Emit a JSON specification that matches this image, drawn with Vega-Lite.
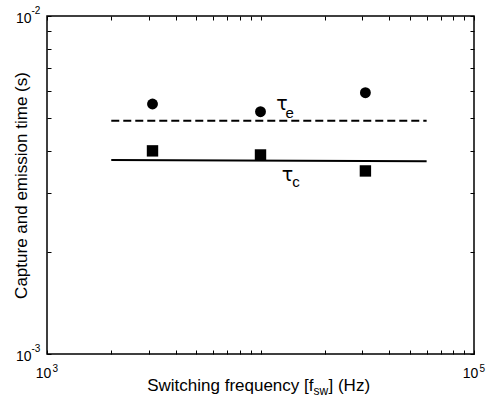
{
  "$schema": "https://vega.github.io/schema/vega-lite/v6.json",
  "width": 427,
  "height": 338,
  "autosize": {"type": "none"},
  "padding": {"left": 47, "top": 16, "right": 14, "bottom": 42},
  "background": "white",
  "datasets": {
    "points": [
      {"f": 3120, "tau": 0.00549, "type": "emission"},
      {"f": 10000, "tau": 0.00521, "type": "emission"},
      {"f": 31000, "tau": 0.00593, "type": "emission"},
      {"f": 3120, "tau": 0.00399, "type": "capture"},
      {"f": 10000, "tau": 0.00388, "type": "capture"},
      {"f": 31000, "tau": 0.00348, "type": "capture"}
    ],
    "fits": [
      {"f": 2000, "tau": 0.0049, "type": "emission"},
      {"f": 60000, "tau": 0.0049, "type": "emission"},
      {"f": 2000, "tau": 0.00375, "type": "capture"},
      {"f": 60000, "tau": 0.00372, "type": "capture"}
    ],
    "labels": [
      {"f": 12610, "tau": 0.00549, "text": "τ", "part": "symbol"},
      {"f": 13700, "tau": 0.00518, "text": "e", "part": "sub"},
      {"f": 13380, "tau": 0.003385, "text": "τ", "part": "symbol"},
      {"f": 14670, "tau": 0.003228, "text": "c", "part": "sub"}
    ]
  },
  "config": {
    "view": {"stroke": "black", "strokeWidth": 1.5},
    "axis": {
      "domain": false,
      "grid": false,
      "labelFont": "Liberation Sans",
      "titleFont": "Liberation Sans",
      "labelColor": "black",
      "titleColor": "black",
      "tickColor": "black",
      "titleFontWeight": "normal",
      "labelOverlap": false,
      "labelFlush": false,
      "labelBound": false
    }
  },
  "resolve": {"axis": {"x": "independent", "y": "independent"}},
  "layer": [
    {
      "data": {"name": "points"},
      "transform": [{"filter": "datum.type === 'emission'"}],
      "mark": {"type": "point", "shape": "circle", "filled": true, "color": "black", "size": 118, "opacity": 1},
      "encoding": {
        "x": {
          "field": "f", "type": "quantitative",
          "scale": {"type": "log", "domain": [1000, 100000], "nice": false},
          "axis": {
            "orient": "bottom",
            "values": [1000, 2000, 3000, 4000, 5000, 6000, 7000, 8000, 9000, 10000, 20000, 30000, 40000, 50000, 60000, 70000, 80000, 90000, 100000],
            "labels": false, "ticks": true, "tickSize": -4, "tickWidth": 1,
            "title": "] (Hz)", "titleFontSize": 17, "titleX": 281, "titleY": 36,
            "titleAlign": "left", "titleBaseline": "alphabetic", "titleAnchor": "start"
          }
        },
        "y": {
          "field": "tau", "type": "quantitative",
          "scale": {"type": "log", "domain": [0.001, 0.01], "nice": false},
          "axis": {
            "orient": "left",
            "values": [0.001, 0.002, 0.003, 0.004, 0.005, 0.006, 0.007, 0.008, 0.009, 0.01],
            "labels": false, "ticks": true, "tickSize": -4, "tickWidth": 1,
            "title": null
          }
        }
      }
    },
    {
      "data": {"name": "points"},
      "transform": [{"filter": "datum.type === 'capture'"}],
      "mark": {"type": "point", "shape": "square", "filled": true, "color": "black", "size": 130, "opacity": 1},
      "encoding": {
        "x": {
          "field": "f", "type": "quantitative",
          "scale": {"type": "log", "domain": [1000, 100000], "nice": false},
          "axis": {
            "orient": "bottom",
            "values": [1000, 100000],
            "ticks": false,
            "labelExpr": "'10'",
            "labelFontSize": 14, "labelAlign": "center", "labelBaseline": "top",
            "labelPadding": 12, "labelOffset": -4,
            "title": "Switching frequency [f", "titleFontSize": 17, "titleX": 266, "titleY": 36,
            "titleAlign": "right", "titleBaseline": "alphabetic", "titleAnchor": "end"
          }
        },
        "y": {
          "field": "tau", "type": "quantitative",
          "scale": {"type": "log", "domain": [0.001, 0.01], "nice": false},
          "axis": {
            "orient": "left",
            "values": [0.001, 0.01],
            "ticks": false,
            "labelExpr": "'10'",
            "labelFontSize": 14, "labelAlign": "right", "labelBaseline": "middle",
            "labelPadding": 16, "labelOffset": 2,
            "title": "Capture and emission time (s)", "titleFontSize": 17,
            "titleAngle": -90, "titleX": -26, "titleY": 169,
            "titleAlign": "center", "titleBaseline": "middle"
          }
        }
      }
    },
    {
      "data": {"name": "fits"},
      "transform": [{"filter": "datum.type === 'emission'"}],
      "mark": {"type": "line", "color": "black", "strokeWidth": 2, "strokeDash": [8, 4]},
      "encoding": {
        "x": {
          "field": "f", "type": "quantitative",
          "scale": {"type": "log", "domain": [1000, 100000], "nice": false},
          "axis": {
            "orient": "bottom",
            "values": [1000, 100000],
            "ticks": false,
            "labelExpr": "'' + round(log(datum.value) / LN10)",
            "labelFontSize": 10, "labelAlign": "left", "labelBaseline": "top",
            "labelPadding": 9, "labelOffset": 5,
            "title": "sw", "titleFontSize": 12, "titleX": 266, "titleY": 40,
            "titleAlign": "left", "titleBaseline": "alphabetic", "titleAnchor": "start"
          }
        },
        "y": {
          "field": "tau", "type": "quantitative",
          "scale": {"type": "log", "domain": [0.001, 0.01], "nice": false},
          "axis": {
            "orient": "left",
            "values": [0.001, 0.01],
            "ticks": false,
            "labelExpr": "'' + round(log(datum.value) / LN10)",
            "labelFontSize": 10, "labelAlign": "left", "labelBaseline": "middle",
            "labelPadding": 16, "labelOffset": -6,
            "title": null
          }
        }
      }
    },
    {
      "data": {"name": "fits"},
      "transform": [{"filter": "datum.type === 'capture'"}],
      "mark": {"type": "line", "color": "black", "strokeWidth": 2},
      "encoding": {
        "x": {
          "field": "f", "type": "quantitative",
          "scale": {"type": "log", "domain": [1000, 100000], "nice": false},
          "axis": {
            "orient": "top",
            "values": [1000, 2000, 3000, 4000, 5000, 6000, 7000, 8000, 9000, 10000, 20000, 30000, 40000, 50000, 60000, 70000, 80000, 90000, 100000],
            "labels": false, "ticks": true, "tickSize": -4, "tickWidth": 1,
            "title": null
          }
        },
        "y": {
          "field": "tau", "type": "quantitative",
          "scale": {"type": "log", "domain": [0.001, 0.01], "nice": false},
          "axis": {
            "orient": "right",
            "values": [0.001, 0.002, 0.003, 0.004, 0.005, 0.006, 0.007, 0.008, 0.009, 0.01],
            "labels": false, "ticks": true, "tickSize": -4, "tickWidth": 1,
            "title": null
          }
        }
      }
    },
    {
      "data": {"name": "labels"},
      "transform": [{"filter": "datum.part === 'symbol'"}],
      "mark": {"type": "text", "font": "DejaVu Sans", "fontSize": 19, "color": "black", "align": "center", "baseline": "middle"},
      "encoding": {
        "x": {"field": "f", "type": "quantitative", "scale": {"type": "log", "domain": [1000, 100000], "nice": false}, "axis": null},
        "y": {"field": "tau", "type": "quantitative", "scale": {"type": "log", "domain": [0.001, 0.01], "nice": false}, "axis": null},
        "text": {"field": "text"}
      }
    },
    {
      "data": {"name": "labels"},
      "transform": [{"filter": "datum.part === 'sub'"}],
      "mark": {"type": "text", "font": "Liberation Sans", "fontSize": 15, "color": "black", "align": "center", "baseline": "middle"},
      "encoding": {
        "x": {"field": "f", "type": "quantitative", "scale": {"type": "log", "domain": [1000, 100000], "nice": false}, "axis": null},
        "y": {"field": "tau", "type": "quantitative", "scale": {"type": "log", "domain": [0.001, 0.01], "nice": false}, "axis": null},
        "text": {"field": "text"}
      }
    }
  ]
}
